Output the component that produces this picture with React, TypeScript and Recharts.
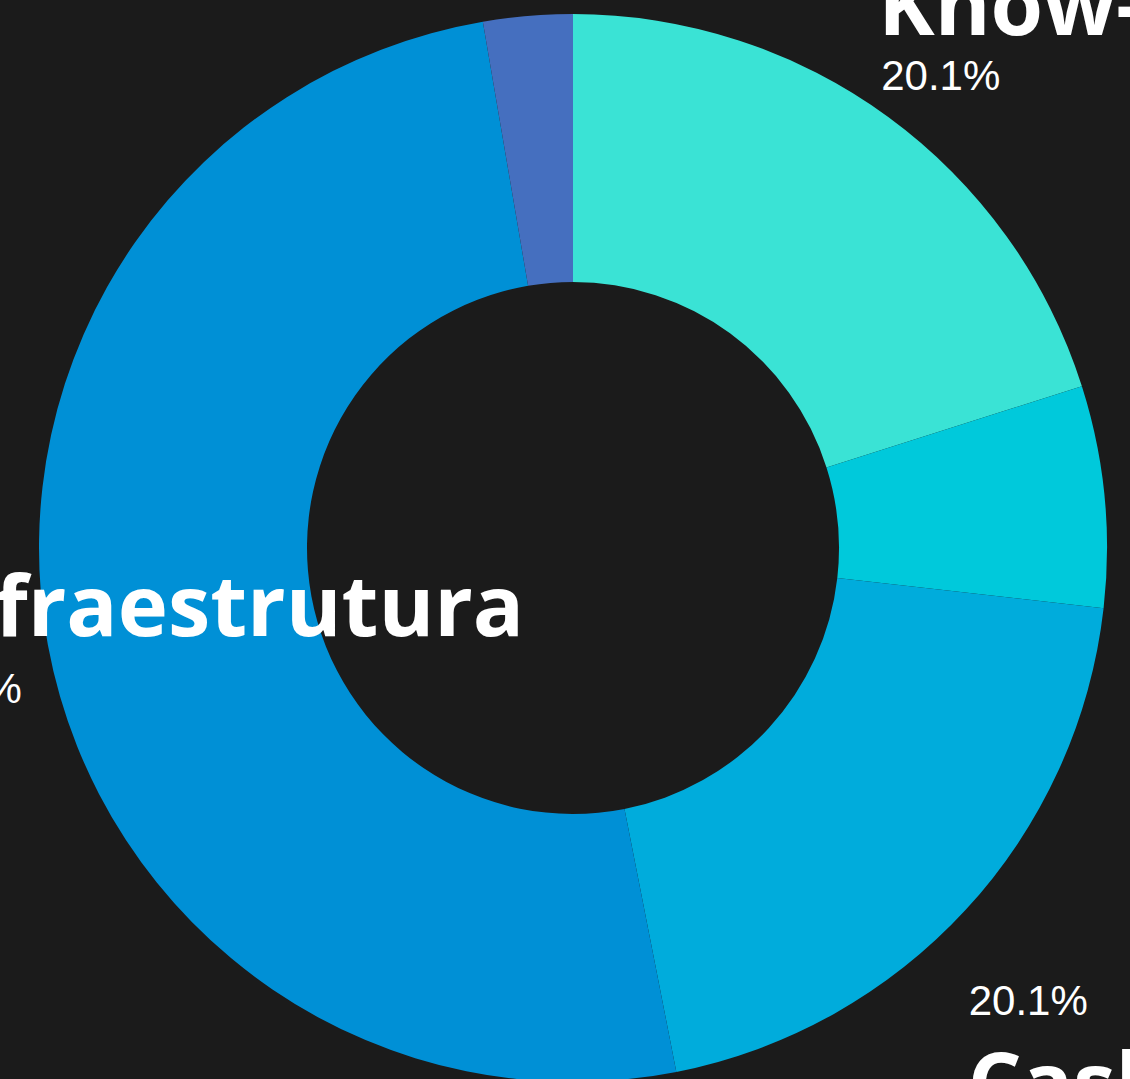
import React from "react";
import { PieChart, Pie, Cell } from "recharts";

document.documentElement.style.overflow = "hidden";
document.documentElement.style.background = "#1b1b1b";
document.body.style.background = "#1b1b1b";
document.body.style.margin = "0";
document.body.style.overflow = "visible";

const categories = ["Know-how", "Tecnologia", "Cash", "Infraestrutura", "Outros"];
const shares = [20.1, 6.7, 20.1, 50.4, 2.7];
const colors = ["#3ae3d5", "#00c9db", "#00acdc", "#0090d6", "#456fbf"];

// label offsets from the point on the outer arc at the slice's mid angle
const labelOffsets: Record<string, { nameDx: number; pctDx: number; nameDy: number; pctDy: number }> = {
  "Know-how": { nameDx: -10, pctDx: -7, nameDy: -82, pctDy: -27 },
  Tecnologia: { nameDx: 40, pctDx: 40, nameDy: -10, pctDy: 45 },
  Cash: { nameDx: 2, pctDx: 3, nameDy: 203, pctDy: 105 },
  Infraestrutura: { nameDx: -137, pctDx: -145, nameDy: -9, pctDy: 58 },
  Outros: { nameDx: 0, pctDx: 0, nameDy: -110, pctDy: -55 },
};

// the body margin is removed, so the chart is shifted by it; extra room lets labels spill past the donut
const EDGE = 8;
const PAD_X = 200;
const PAD_Y = 100;

const RADIAN = Math.PI / 180;

const renderLabel = (props: any) => {
  const { cx, cy, midAngle, outerRadius, percent, name } = props;
  const off = labelOffsets[name] || { nameDx: 0, pctDx: 0, nameDy: 0, pctDy: 40 };
  const x = cx + outerRadius * Math.cos(-midAngle * RADIAN);
  const y = cy + outerRadius * Math.sin(-midAngle * RADIAN);
  return (
    <g>
      <text
        x={x + off.nameDx}
        y={y + off.nameDy}
        fill="#ffffff"
        textAnchor="start"
        fontFamily="'Open Sans', sans-serif"
        fontWeight={700}
        fontSize={85}
      >
        {name}
      </text>
      <text
        x={x + off.pctDx}
        y={y + off.pctDy}
        fill="#ffffff"
        textAnchor="start"
        fontFamily="'Liberation Sans', Arial, sans-serif"
        fontSize={42}
      >
        {`${(percent * 100).toFixed(1)}%`}
      </text>
    </g>
  );
};

export default function App() {
  const data = categories.map((name, i) => ({ name, value: shares[i] }));

  return (
    <div style={{ marginLeft: EDGE - PAD_X, marginTop: EDGE - PAD_Y }}>
      <PieChart
        width={1130 + PAD_X * 2}
        height={1080 + PAD_Y * 2}
        margin={{ top: 0, right: 0, bottom: 0, left: 0 }}
      >
        <Pie
          data={data}
          dataKey="value"
          nameKey="name"
          cx={565 + PAD_X}
          cy={540 + PAD_Y}
          innerRadius={266}
          outerRadius={534}
          startAngle={90}
          endAngle={-270}
          stroke="none"
          label={renderLabel}
          labelLine={false}
          isAnimationActive={false}
        >
          {data.map((_, index) => (
            <Cell key={`cell-${index}`} fill={colors[index]} />
          ))}
        </Pie>
      </PieChart>
    </div>
  );
}
